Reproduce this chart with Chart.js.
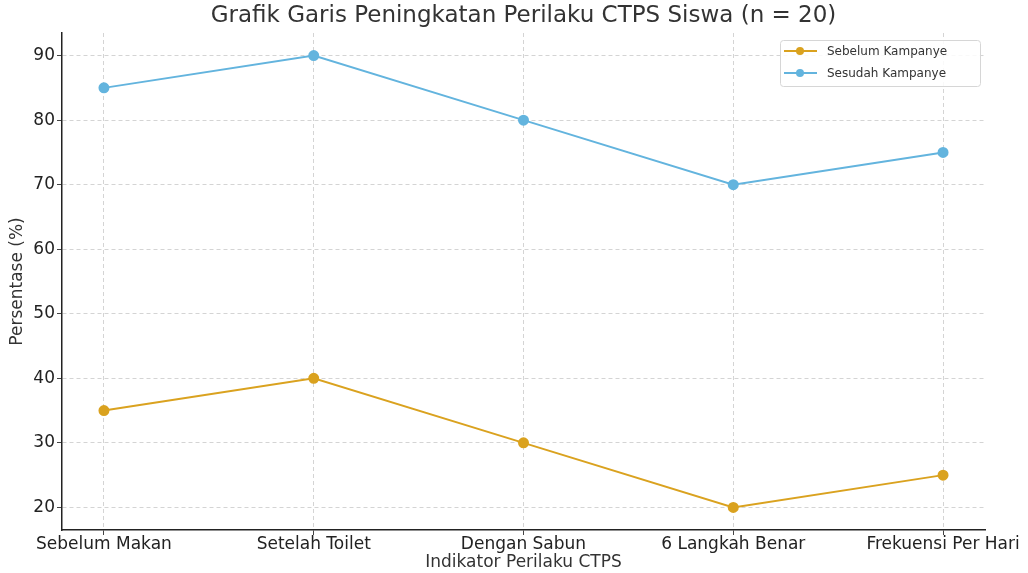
<!DOCTYPE html>
<html>
<head>
<meta charset="utf-8">
<script src="https://cdn.jsdelivr.net/npm/chart.js@4/dist/chart.umd.min.js"></script>
<style>
  body { margin: 0; background: #fff; }
  #wrap { width: 1028px; height: 573px; }
</style>
</head>
<body>
<div id="wrap"><canvas id="ctpsChart" width="1028" height="573"></canvas></div>
<script>
// data
const categories = ['Sebelum Makan', 'Setelah Toilet', 'Dengan Sabun', '6 Langkah Benar', 'Frekuensi Per Hari'];
const sebelum = [35, 40, 30, 20, 25];
const sesudah = [85, 90, 80, 70, 75];
const yTicks = [20, 30, 40, 50, 60, 70, 80, 90];

const chartTitle = 'Grafik Garis Peningkatan Perilaku CTPS Siswa (n = 20)';
const orange = '#daa21f';
const blue = '#63b4de';
const font = 'DejaVu Sans';

// title centred over the plot area (matplotlib style), not the whole canvas
const areaTitle = {
    id: 'areaTitle',
    afterDraw(chart) {
        const ctx = chart.ctx;
        const area = chart.chartArea;
        ctx.save();
        ctx.font = '23px ' + font;
        ctx.fillStyle = '#333';
        ctx.textAlign = 'center';
        ctx.textBaseline = 'middle';
        ctx.fillText(chartTitle, (area.left + area.right) / 2, 16);
        ctx.restore();
    }
};

// small legend box in the top-right corner
const boxLegend = {
    id: 'boxLegend',
    afterDraw(chart) {
        const ctx = chart.ctx;
        const area = chart.chartArea;
        const w = 200, h = 46;
        const x = area.right - w - 5, y = area.top + 7;
        ctx.save();
        ctx.fillStyle = 'rgba(255,255,255,0.85)';
        ctx.strokeStyle = '#d6d6d6';
        ctx.lineWidth = 1;
        ctx.beginPath();
        ctx.roundRect(x + 0.5, y + 0.5, w, h, 3);
        ctx.fill();
        ctx.stroke();
        ctx.font = '12px ' + font;
        ctx.textBaseline = 'middle';
        chart.data.datasets.forEach((ds, i) => {
            const cy = y + 11 + i * 22;
            ctx.strokeStyle = ds.borderColor;
            ctx.lineWidth = 2;
            ctx.beginPath();
            ctx.moveTo(x + 4, cy);
            ctx.lineTo(x + 37, cy);
            ctx.stroke();
            ctx.fillStyle = ds.borderColor;
            ctx.beginPath();
            ctx.arc(x + 20, cy, 4, 0, Math.PI * 2);
            ctx.fill();
            ctx.fillStyle = '#333';
            ctx.fillText(ds.label, x + 47, cy + 1);
        });
        ctx.restore();
    }
};

const gridOpts = {
    color: '#d4d4d4',
    tickColor: '#444',
    tickBorderDash: [],
    tickLength: 5
};

const ctx = document.getElementById('ctpsChart').getContext('2d');
new Chart(ctx, {
    type: 'line',
    data: {
        datasets: [
            {
                label: 'Sebelum Kampanye',
                data: sebelum.map((v, i) => ({ x: i, y: v })),
                borderColor: orange,
                backgroundColor: orange,
                borderWidth: 2,
                pointRadius: 4.5,
                pointHoverRadius: 4.5,
                tension: 0
            },
            {
                label: 'Sesudah Kampanye',
                data: sesudah.map((v, i) => ({ x: i, y: v })),
                borderColor: blue,
                backgroundColor: blue,
                borderWidth: 2,
                pointRadius: 4.5,
                pointHoverRadius: 4.5,
                tension: 0
            }
        ]
    },
    options: {
        responsive: false,
        animation: false,
        layout: { padding: { left: 7, right: 43, top: 33, bottom: 0 } },
        plugins: {
            legend: { display: false },
            tooltip: { enabled: false },
            title: { display: false }
        },
        scales: {
            x: {
                type: 'linear',
                min: -0.2,
                max: 4.2,
                afterBuildTicks: s => { s.ticks = categories.map((c, i) => ({ value: i })); },
                afterFit: s => { s.height = 43; },
                ticks: {
                    callback: v => categories[v],
                    color: '#222',
                    font: { family: font, size: 17 },
                    maxRotation: 0,
                    autoSkip: false,
                    padding: -1
                },
                grid: gridOpts,
                border: { display: true, color: '#222', width: 1.5, dash: [4, 3] },
                title: {
                    display: true,
                    text: 'Indikator Perilaku CTPS',
                    color: '#333',
                    font: { family: font, size: 17 },
                    padding: { top: 0, bottom: 0 }
                }
            },
            y: {
                min: 16.5,
                max: 93.5,
                afterBuildTicks: s => { s.ticks = yTicks.map(v => ({ value: v })); },
                afterFit: s => { s.width = 55; },
                ticks: {
                    color: '#222',
                    font: { family: font, size: 17 },
                    padding: 2
                },
                grid: gridOpts,
                border: { display: true, color: '#222', width: 1.5, dash: [4, 3] },
                title: {
                    display: true,
                    text: 'Persentase (%)',
                    color: '#333',
                    font: { family: font, size: 17 },
                    padding: { top: 0, bottom: 0 }
                }
            }
        }
    },
    plugins: [areaTitle, boxLegend]
});
</script>
</body>
</html>
